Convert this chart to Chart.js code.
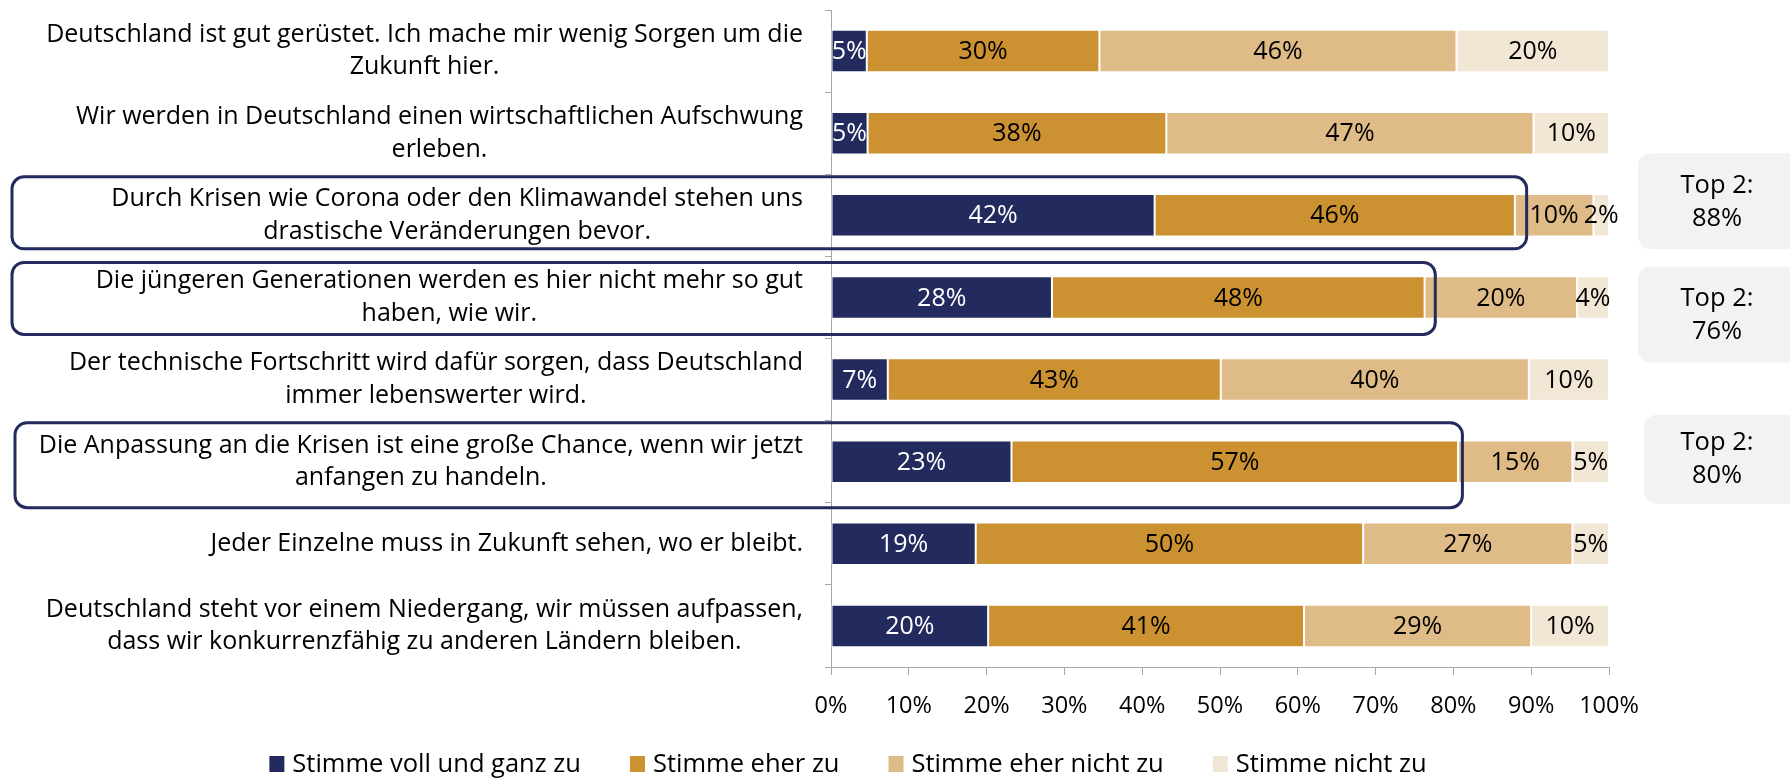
<!DOCTYPE html>
<html><head><meta charset="utf-8">
<script src="https://cdn.jsdelivr.net/npm/chart.js@4.4.1/dist/chart.umd.min.js"></script>
<style>html,body{margin:0;padding:0;background:#fff;}canvas{display:block;}</style>
</head><body>
<canvas id="c" width="1790" height="779"></canvas>
<script>
// ---------- data ----------
const categories = [
  ["Deutschland ist gut gerüstet. Ich mache mir wenig Sorgen um die", "Zukunft hier."],
  ["Wir werden in Deutschland einen wirtschaftlichen Aufschwung", "erleben."],
  ["Durch Krisen wie Corona oder den Klimawandel stehen uns", "drastische Veränderungen bevor."],
  ["Die jüngeren Generationen werden es hier nicht mehr so gut", "haben, wie wir."],
  ["Der technische Fortschritt wird dafür sorgen, dass Deutschland", "immer lebenswerter wird."],
  ["Die Anpassung an die Krisen ist eine große Chance, wenn wir jetzt", "anfangen zu handeln."],
  ["Jeder Einzelne muss in Zukunft sehen, wo er bleibt."],
  ["Deutschland steht vor einem Niedergang, wir müssen aufpassen,", "dass wir konkurrenzfähig zu anderen Ländern bleiben."]
];
const seriesNames = ["Stimme voll und ganz zu", "Stimme eher zu", "Stimme eher nicht zu", "Stimme nicht zu"];
const stimmeVollUndGanzZu = [4.6, 4.7, 41.6, 28.4, 7.3, 23.2, 18.6, 20.2];
const stimmeEherZu        = [29.9, 38.4, 46.3, 47.9, 42.8, 57.4, 49.8, 40.6];
const stimmeEherNichtZu   = [45.9, 47.2, 10.1, 19.6, 39.6, 14.7, 26.9, 29.2];
const stimmeNichtZu       = [19.6, 9.7, 2.0, 4.1, 10.3, 4.7, 4.7, 10.0];
const xTickValues = [0, 10, 20, 30, 40, 50, 60, 70, 80, 90, 100];
const highlightRows = [2, 3, 5];
const top2Values = [88, 76, 80];
const top2Title = "Top 2:";

// ---------- styles ----------
const FONT = "'Open Sans', 'Noto Sans', sans-serif";
const colors = ["#232A5E", "#CC9130", "#DFBB87", "#F2E6D4"];
const frameStyle = [{up: 38.5, down: 33.5, pad: 11, left: 12}, {up: 35, down: 37, pad: 13, left: 12}, {up: 39, down: 46, pad: 9, left: 15}];
const top2Style = [{dy: -14, h: 96, left: 1638}, {dy: 17, h: 96, left: 1638}, {dy: -2.5, h: 89, left: 1644}];

function rr(ctx, x, y, w, h, r) {
  ctx.beginPath();
  ctx.moveTo(x + r, y);
  ctx.lineTo(x + w - r, y);
  ctx.arcTo(x + w, y, x + w, y + r, r);
  ctx.lineTo(x + w, y + h - r);
  ctx.arcTo(x + w, y + h, x + w - r, y + h, r);
  ctx.lineTo(x + r, y + h);
  ctx.arcTo(x, y + h, x, y + h - r, r);
  ctx.lineTo(x, y + r);
  ctx.arcTo(x, y, x + r, y, r);
  ctx.closePath();
}

const catLabelPlugin = {
  id: 'catLabels',
  afterDraw(chart) {
    const ctx = chart.ctx, ys = chart.scales.y;
    ctx.save();
    ctx.font = `25px ${FONT}`;
    ctx.fillStyle = '#000';
    ctx.textAlign = 'center';
    ctx.textBaseline = 'middle';
    const right = 803, lh = 32.5;
    chart.data.labels.forEach((lines, i) => {
      const cy = ys.getPixelForValue(i);
      const w = Math.max(...lines.map(l => ctx.measureText(l).width));
      const cx = right - w / 2;
      const y0 = cy - (lines.length - 1) * lh / 2;
      lines.forEach((l, j) => ctx.fillText(l, cx, y0 + j * lh));
    });
    ctx.restore();
  }
};

const dataLabelPlugin = {
  id: 'dataLabels',
  afterDatasetsDraw(chart) {
    const ctx = chart.ctx;
    ctx.save();
    ctx.font = `25px ${FONT}`;
    ctx.textAlign = 'center';
    ctx.textBaseline = 'middle';
    chart.data.datasets.forEach((ds, di) => {
      const meta = chart.getDatasetMeta(di);
      meta.data.forEach((bar, i) => {
        const p = bar.getCenterPoint();
        ctx.fillStyle = di === 0 ? '#fff' : '#000';
        ctx.fillText(Math.round(ds.data[i]) + '%', p.x, p.y + 1);
      });
    });
    ctx.restore();
  }
};

const highlightPlugin = {
  id: 'highlights',
  afterDatasetsDraw(chart) {
    const ctx = chart.ctx, xs = chart.scales.x, ys = chart.scales.y;
    ctx.save();
    highlightRows.forEach((row, k) => {
      const cy = ys.getPixelForValue(row);
      const fs = frameStyle[k];
      const xr = xs.getPixelForValue(top2Values[k]) + fs.pad;
      ctx.lineWidth = 3;
      ctx.strokeStyle = colors[0];
      rr(ctx, fs.left, cy - fs.up, xr - fs.left, fs.up + fs.down, 12);
      ctx.stroke();
      const ts = top2Style[k];
      const bc = cy + ts.dy;
      ctx.fillStyle = '#F2F2F2';
      rr(ctx, ts.left, bc - ts.h / 2, 1800 - ts.left, ts.h, 13);
      ctx.fill();
      ctx.fillStyle = '#000';
      ctx.font = `25.5px ${FONT}`;
      ctx.textAlign = 'center';
      ctx.textBaseline = 'middle';
      ctx.fillText(top2Title, 1717, bc - 16);
      ctx.fillText(top2Values[k] + '%', 1717, bc + 17);
    });
    ctx.restore();
  }
};

const legendPlugin = {
  id: 'customLegend',
  afterDraw(chart) {
    const ctx = chart.ctx;
    ctx.save();
    ctx.font = `25.5px ${FONT}`;
    ctx.textBaseline = 'middle';
    ctx.textAlign = 'left';
    const box = 15, gap = 8, spacing = 49;
    const ds = chart.data.datasets;
    const widths = ds.map(d => ctx.measureText(d.label).width);
    const total = widths.reduce((a, w) => a + box + gap + w, 0) + spacing * (ds.length - 1);
    let x = 848 - total / 2;
    ds.forEach((d, i) => {
      ctx.fillStyle = d.backgroundColor;
      ctx.fillRect(x, 756, box, 16);
      ctx.fillStyle = '#000';
      ctx.fillText(d.label, x + box + gap, 765);
      x += box + gap + widths[i] + spacing;
    });
    ctx.restore();
  }
};

function build() {
  const seriesData = [stimmeVollUndGanzZu, stimmeEherZu, stimmeEherNichtZu, stimmeNichtZu];
  new Chart(document.getElementById('c'), {
    type: 'bar',
    data: {
      labels: categories,
      datasets: seriesData.map((d, i) => ({
        label: seriesNames[i], data: d, backgroundColor: colors[i]
      }))
    },
    options: {
      indexAxis: 'y',
      responsive: false,
      animation: false,
      devicePixelRatio: 1,
      layout: {padding: {top: 10, right: 181, bottom: 0, left: 0}},
      datasets: {bar: {barPercentage: 0.518, categoryPercentage: 1, borderColor: '#ffffff', borderWidth: 1, borderSkipped: false}},
      plugins: {legend: {display: false}, tooltip: {enabled: false}},
      scales: {
        x: {
          stacked: true, min: 0, max: 100,
          afterBuildTicks(s) { s.ticks = xTickValues.map(v => ({value: v})); },
          ticks: {callback: v => v + '%', color: '#000', font: {family: FONT, size: 23.5}, padding: 17, maxRotation: 0, autoSkip: false},
          grid: {drawOnChartArea: false, drawTicks: true, tickLength: 8, color: '#A6A6A6'},
          border: {color: '#A6A6A6'},
          afterFit(s) { s.height = 112; }
        },
        y: {
          stacked: true,
          ticks: {display: false},
          grid: {drawOnChartArea: false, drawTicks: true, tickLength: 6, color: '#A6A6A6'},
          border: {color: '#A6A6A6'},
          afterFit(s) { s.width = 831; }
        }
      }
    },
    plugins: [dataLabelPlugin, highlightPlugin, catLabelPlugin, legendPlugin]
  });
}
if (document.fonts && document.fonts.load) {
  Promise.all([document.fonts.load(`25px 'Open Sans'`)]).then(build, build);
} else build();
</script>
</body></html>
